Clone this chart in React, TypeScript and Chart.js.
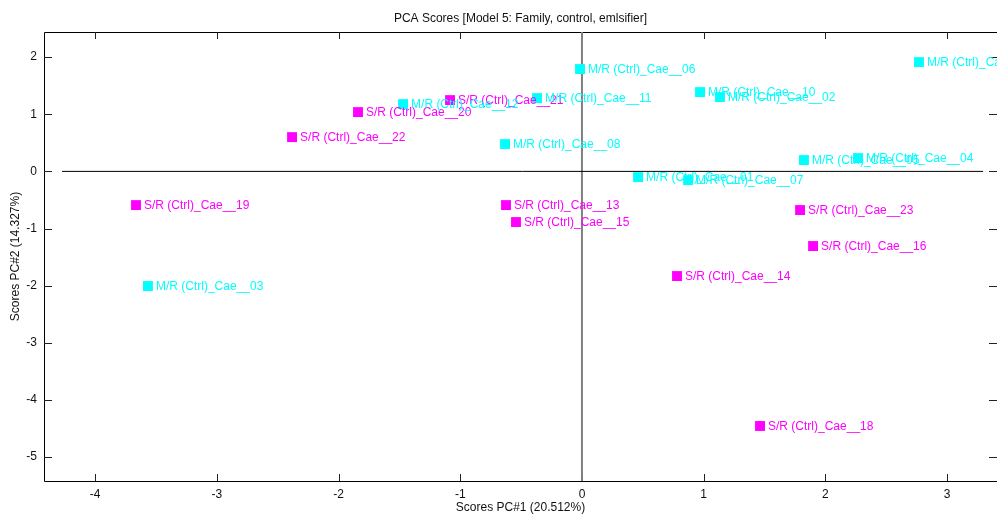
import React, { useEffect, useRef } from "react";
import { Chart, registerables } from "chart.js";

Chart.register(...registerables);

const srLabels = [
  "S/R (Ctrl)_Cae__21",
  "S/R (Ctrl)_Cae__20",
  "S/R (Ctrl)_Cae__22",
  "S/R (Ctrl)_Cae__19",
  "S/R (Ctrl)_Cae__13",
  "S/R (Ctrl)_Cae__15",
  "S/R (Ctrl)_Cae__14",
  "S/R (Ctrl)_Cae__23",
  "S/R (Ctrl)_Cae__16",
  "S/R (Ctrl)_Cae__18",
];
const srPC1 = [-1.084, -1.84, -2.382, -3.664, -0.624, -0.542, 0.781, 1.792, 1.899, 1.463];
const srPC2 = [1.248, 1.038, 0.6, -0.59, -0.59, -0.887, -1.832, -0.677, -1.307, -4.457];

const mrLabels = [
  "M/R (Ctrl)_Cae__06",
  "M/R (Ctrl)_Cae__12",
  "M/R (Ctrl)_Cae__11",
  "M/R (Ctrl)_Cae__08",
  "M/R (Ctrl)_Cae__10",
  "M/R (Ctrl)_Cae__02",
  "M/R (Ctrl)_Cae__09",
  "M/R (Ctrl)_Cae__05",
  "M/R (Ctrl)_Cae__04",
  "M/R (Ctrl)_Cae__01",
  "M/R (Ctrl)_Cae__07",
  "M/R (Ctrl)_Cae__03",
];
const mrPC1 = [-0.016, -1.47, -0.369, -0.632, 0.97, 1.134, 2.769, 1.824, 2.268, 0.461, 0.872, -3.566];
const mrPC2 = [1.791, 1.178, 1.283, 0.478, 1.388, 1.301, 1.913, 0.198, 0.233, -0.1, -0.153, -2.007];

const xRange = [-4.42, 3.41];
const yRange = [-5.42, 2.44];
const hZeroLine = [-4.272, 3.296];

const titleText = "PCA Scores [Model 5: Family, control, emlsifier]";
const xTitle = "Scores PC#1 (20.512%)";
const yTitle = "Scores PC#2 (14.327%)";

const FONT = "'Liberation Sans', Arial, sans-serif";

const labelPlugin = {
  id: "pointLabels",
  afterDatasetsDraw(chart: any) {
    const ctx = chart.ctx;
    ctx.save();
    ctx.font = `12px ${FONT}`;
    ctx.textBaseline = "middle";
    ctx.textAlign = "left";
    chart.data.datasets.forEach((ds: any, i: number) => {
      if (!ds.pointLabels) return;
      const meta = chart.getDatasetMeta(i);
      ctx.fillStyle = ds.backgroundColor;
      meta.data.forEach((el: any, j: number) => {
        ctx.fillText(ds.pointLabels[j], el.x + 8, el.y + 1);
      });
    });
    ctx.restore();
  },
};

const framePlugin = {
  id: "frameTicks",
  beforeDatasetsDraw(chart: any) {
    const { ctx, chartArea } = chart;
    const { left, right, top, bottom } = chartArea;
    const xs = chart.scales.x;
    const ys = chart.scales.y;
    ctx.save();
    ctx.strokeStyle = "#000";
    ctx.lineWidth = 1;
    ctx.beginPath();
    ctx.moveTo(right + 0.5, top + 0.5);
    ctx.lineTo(left + 0.5, top + 0.5);
    ctx.lineTo(left + 0.5, bottom + 0.5);
    ctx.lineTo(right + 0.5, bottom + 0.5);
    ctx.stroke();
    ctx.strokeStyle = "#222";
    ctx.beginPath();
    xs.ticks.forEach((t: any) => {
      const px = Math.round(xs.getPixelForValue(t.value)) + 0.5;
      ctx.moveTo(px, bottom);
      ctx.lineTo(px, bottom - 7);
      ctx.moveTo(px, top);
      ctx.lineTo(px, top + 7);
    });
    ys.ticks.forEach((t: any) => {
      const py = Math.round(ys.getPixelForValue(t.value)) + 0.5;
      ctx.moveTo(left, py);
      ctx.lineTo(left + 8, py);
      ctx.moveTo(right, py);
      ctx.lineTo(right - 8, py);
    });
    ctx.stroke();
    ctx.restore();
  },
};

export default function App() {
  const ref = useRef<HTMLCanvasElement | null>(null);
  useEffect(() => {
    if (!ref.current) return;
    const chart = new Chart(ref.current, {
      type: "scatter",
      data: {
        datasets: [
          {
            label: "S/R",
            data: srPC1.map((x, i) => ({ x, y: srPC2[i] })),
            backgroundColor: "#FF00FF",
            borderColor: "#FF00FF",
            borderWidth: 0,
            pointStyle: "rect",
            pointRadius: 7,
            pointLabels: srLabels,
            order: 1,
          } as any,
          {
            label: "M/R",
            data: mrPC1.map((x, i) => ({ x, y: mrPC2[i] })),
            backgroundColor: "#00FFFF",
            borderColor: "#00FFFF",
            borderWidth: 0,
            pointStyle: "rect",
            pointRadius: 7,
            pointLabels: mrLabels,
            order: 2,
          } as any,
          {
            label: "h0",
            type: "line",
            data: hZeroLine.map((x) => ({ x, y: 0 })),
            borderColor: "#000",
            borderWidth: 1,
            pointRadius: 0,
            showLine: true,
            order: 10,
          } as any,
          {
            label: "v0",
            type: "line",
            data: yRange.map((y) => ({ x: 0, y })),
            borderColor: "#808080",
            borderWidth: 2,
            pointRadius: 0,
            showLine: true,
            order: 11,
          } as any,
        ],
      },
      options: {
        animation: false,
        responsive: false,
        devicePixelRatio: 1,
        layout: { padding: 0, autoPadding: false },
        plugins: {
          legend: { display: false },
          tooltip: { enabled: false },
          title: {
            display: true,
            fullSize: false,
            text: titleText,
            color: "#111",
            font: { family: FONT, size: 12, weight: "normal" },
            padding: { top: 11, bottom: 6.6 },
          },
        },
        scales: {
          x: {
            type: "linear",
            min: xRange[0],
            max: xRange[1],
            grid: { display: false, drawTicks: false },
            border: { display: false },
            ticks: {
              stepSize: 1,
              includeBounds: false,
              color: "#111",
              padding: 6,
              font: { family: FONT, size: 12 },
            },
            title: {
              display: true,
              text: xTitle,
              color: "#111",
              font: { family: FONT, size: 12 },
              padding: { top: 0, bottom: 1 },
            },
            afterFit: (s: any) => {
              s.height = 35;
              s.paddingLeft = 0;
              s.paddingRight = 0;
            },
          },
          y: {
            type: "linear",
            min: yRange[0],
            max: yRange[1],
            grid: { display: false, drawTicks: false },
            border: { display: false },
            ticks: {
              stepSize: 1,
              includeBounds: false,
              color: "#111",
              padding: 7,
              font: { family: FONT, size: 12 },
            },
            title: {
              display: true,
              text: yTitle,
              color: "#111",
              font: { family: FONT, size: 12 },
              padding: { top: 8.8, bottom: 0 },
            },
            afterFit: (s: any) => {
              s.width = 44;
              s.paddingTop = 0;
              s.paddingBottom = 0;
            },
          },
        },
      } as any,
      plugins: [framePlugin, labelPlugin],
    });
    return () => chart.destroy();
  }, []);
  return (
    <div style={{ position: "fixed", left: 0, top: 0, width: 997, height: 516, overflow: "hidden", background: "#fff" }}>
      <canvas ref={ref} width={997} height={516} style={{ display: "block" }} />
    </div>
  );
}
